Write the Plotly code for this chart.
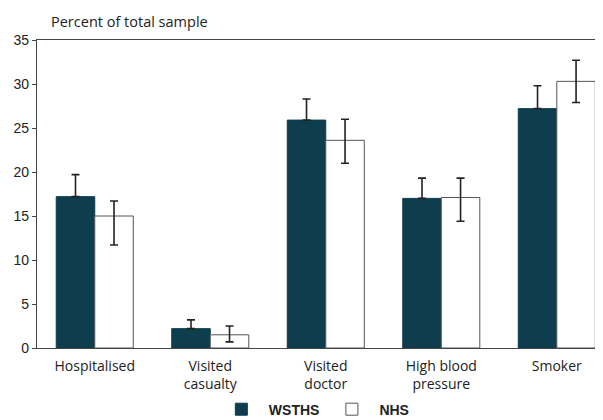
import plotly.graph_objects as go

categories = ["Hospitalised", "Visited<br>casualty", "Visited<br>doctor", "High blood<br>pressure", "Smoker"]
wsths = [17.2, 2.2, 25.9, 17.0, 27.2]
wsths_err_plus = [2.5, 1.0, 2.4, 2.3, 2.6]
nhs = [15.0, 1.5, 23.6, 17.1, 30.3]
nhs_err_plus = [1.7, 1.0, 2.4, 2.2, 2.4]
nhs_err_minus = [3.3, 0.8, 2.6, 2.7, 2.4]
y_ticks = [0, 5, 10, 15, 20, 25, 30, 35]

dark = "#0e3d4e"
txt = "#222222"
font_fam = "'Open Sans', Lato, sans-serif"
num_fam = "Liberation Sans, Arial, sans-serif"

fig = go.Figure()
fig.add_trace(go.Bar(
    name="WSTHS", x=categories, y=wsths,
    marker=dict(color=dark, line=dict(color=dark, width=1)),
    error_y=dict(type="data", symmetric=False, array=wsths_err_plus,
                 arrayminus=[0] * len(wsths), color=txt, thickness=1.6, width=4),
))
fig.add_trace(go.Bar(
    name="NHS", x=categories, y=nhs,
    marker=dict(color="white", line=dict(color="#555555", width=1)),
    error_y=dict(type="data", symmetric=False, array=nhs_err_plus,
                 arrayminus=nhs_err_minus, color=txt, thickness=1.6, width=4),
))

fig.update_layout(
    width=595, height=412,
    margin=dict(l=29, r=0, t=32, b=72, autoexpand=False),
    paper_bgcolor="white", plot_bgcolor="white",
    barmode="group", bargap=0.333, bargroupgap=0,
    font=dict(family=font_fam, size=12, color=txt),
    showlegend=True,
    legend=dict(orientation="h", x=0.49, xanchor="center", y=-0.2, yanchor="middle",
                font=dict(size=14, color=txt, family=num_fam, weight="bold"),
                itemwidth=45, traceorder="normal"),
    annotations=[dict(text="Percent of total sample", xref="paper", yref="paper",
                      x=0.022, y=1.0, yshift=7, xanchor="left", yanchor="bottom",
                      showarrow=False, font=dict(size=14.5, color=txt, family=font_fam))],
)
fig.update_xaxes(
    range=[-0.5, 4.4], showline=True, linecolor="#444444", linewidth=1.2, mirror=True,
    ticks="", showgrid=False, ticklabelstandoff=5,
    tickfont=dict(size=14, color=txt, family=font_fam),
)
fig.update_yaxes(
    range=[0, 35], tickvals=y_ticks, showline=True, linecolor="#444444", linewidth=1.2,
    ticks="outside", ticklen=4, tickcolor="#444444", showgrid=False, zeroline=False,
    tickfont=dict(size=14, color=txt, family=num_fam),
)

fig.write_html("out.html")
